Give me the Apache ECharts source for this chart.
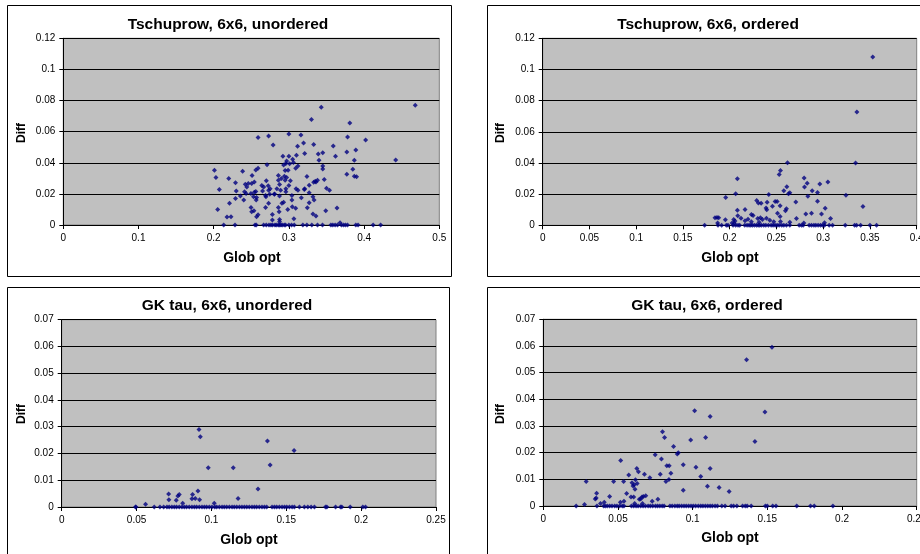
<!DOCTYPE html>
<html>
<head>
<meta charset="utf-8">
<script src="https://cdn.jsdelivr.net/npm/echarts@6/dist/echarts.min.js"></script>
<style>
  html, body { margin: 0; padding: 0; background: #fff; }
  #chart { width: 920px; height: 554px; }
</style>
</head>
<body>
<div id="chart"></div>
<script>
// panel titles
const titles = ['Tschuprow, 6x6, unordered', 'Tschuprow, 6x6, ordered', 'GK tau, 6x6, unordered', 'GK tau, 6x6, ordered']

// Tschuprow, unordered: points off the baseline [glob opt, diff]
const tschUnordered = [
  [0.468,0.077],[0.343,0.0757],[0.330,0.0678],[0.381,0.0655],[0.259,0.0563],[0.273,0.0572],[0.300,0.0585],[0.316,0.0578],
  [0.279,0.0514],[0.3115,0.0506],[0.3195,0.0527],[0.333,0.0518],[0.359,0.0508],[0.378,0.0565],[0.402,0.0546],[0.389,0.0482],
  [0.377,0.0469],[0.345,0.0465],[0.339,0.0457],[0.340,0.0416],[0.321,0.0459],[0.310,0.0448],[0.362,0.0442],[0.442,0.0418],
  [0.387,0.0416],[0.292,0.0442],[0.300,0.0442],[0.305,0.0422],[0.297,0.0412],[0.306,0.0401],[0.296,0.0395],[0.293,0.0386],
  [0.301,0.0393],[0.312,0.038],[0.271,0.0388],[0.345,0.038],[0.345,0.036],[0.201,0.0352],[0.203,0.0305],[0.2385,0.0346],
  [0.256,0.0354],[0.259,0.0365],[0.295,0.035],[0.299,0.0352],[0.309,0.0365],[0.294,0.0314],[0.297,0.0305],[0.290,0.0299],
  [0.286,0.0318],[0.385,0.0358],[0.377,0.0326],[0.387,0.0314],[0.390,0.031],[0.324,0.0311],[0.338,0.0288],[0.335,0.0282],
  [0.220,0.0299],[0.251,0.0318],[0.229,0.0271],[0.242,0.0262],[0.246,0.0267],[0.244,0.0245],[0.2505,0.0267],[0.254,0.0277],
  [0.270,0.0284],[0.264,0.0254],[0.2725,0.0252],[0.286,0.0288],[0.2876,0.026],[0.295,0.0288],[0.302,0.0284],[0.284,0.0233],
  [0.289,0.0224],[0.296,0.0233],[0.296,0.0213],[0.327,0.0256],[0.347,0.0292],[0.350,0.0237],[0.354,0.0224],[0.2075,0.0228],
  [0.230,0.0218],[0.241,0.0213],[0.2495,0.0203],[0.254,0.0211],[0.265,0.0218],[0.275,0.0233],[0.300,0.0254],[0.3095,0.0233],
  [0.336,0.0277],[0.321,0.0233],[0.333,0.0275],[0.312,0.0224],[0.3205,0.0228],[0.2355,0.0186],[0.243,0.0203],[0.256,0.0215],
  [0.2665,0.0245],[0.273,0.0224],[0.2745,0.0198],[0.269,0.019],[0.281,0.02],[0.2875,0.0186],[0.304,0.019],[0.327,0.0207],
  [0.332,0.0181],[0.221,0.0139],[0.229,0.0171],[0.253,0.0181],[0.257,0.0177],[0.2565,0.016],[0.2695,0.0181],[0.2805,0.0198],
  [0.304,0.016],[0.3165,0.0175],[0.327,0.0143],[0.3335,0.016],[0.2053,0.01],[0.2177,0.0051],[0.223,0.0053],[0.240,0.016],
  [0.2496,0.0113],[0.2505,0.0085],[0.2535,0.0092],[0.257,0.0053],[0.259,0.0066],[0.269,0.0113],[0.273,0.0139],[0.278,0.0068],
  [0.278,0.0032],[0.286,0.0113],[0.287,0.0085],[0.2907,0.0139],[0.293,0.0147],[0.2985,0.01],[0.3045,0.0117],[0.309,0.0107],
  [0.3245,0.0111],[0.332,0.007],[0.336,0.0058],[0.349,0.0092],[0.364,0.0109],[0.3066,0.004],[0.2876,0.0036],[0.2876,0.0021],
  [0.368,0.0015]
]
// glob opt values whose diff is 0
const tschUnorderedZeroX = [0.2133,0.2283,0.2549,0.2566,0.2664,0.2699,0.2735,0.2761,0.2783,0.2814,0.2832,0.2858,0.2876,0.2894,
  0.2912,0.2938,0.2956,0.300,0.3035,0.3071,0.3186,0.3239,0.3305,0.338,0.3447,0.3558,0.3584,0.3615,0.3646,0.3699,0.3726,0.3752,
  0.3779,0.389,0.392,0.412,0.422]

const tschOrdered = [
  [0.353,0.108],[0.336,0.0727],[0.2618,0.0402],[0.3346,0.040],[0.2543,0.0352],[0.2529,0.0326],[0.2082,0.0298],[0.2796,0.0304],
  [0.2829,0.027],[0.28,0.0246],[0.305,0.0278],[0.2964,0.0265],[0.2611,0.0248],[0.2579,0.0222],[0.2643,0.0209],[0.2629,0.0202],
  [0.2882,0.0222],[0.2939,0.0211],[0.2836,0.0187],[0.3243,0.0193],[0.2064,0.0202],[0.2418,0.0198],[0.1957,0.0178],[0.2289,0.0159],
  [0.2307,0.0143],[0.2336,0.0141],[0.24,0.0148],[0.2457,0.0122],[0.2486,0.0152],[0.2507,0.0152],[0.2539,0.0126],[0.2707,0.015],
  [0.2939,0.0154],[0.2389,0.0111],[0.2396,0.01],[0.2607,0.0107],[0.2596,0.0093],[0.3021,0.0109],[0.3425,0.012],[0.2082,0.0096],
  [0.2164,0.0102],[0.2232,0.007],[0.225,0.0063],[0.2511,0.0078],[0.2539,0.0057],[0.2814,0.0072],[0.2875,0.0078],[0.2982,0.0072],
  [0.3079,0.0043],[0.2714,0.0043],[0.1843,0.0048],[0.1864,0.005],[0.1882,0.0048],[0.1954,0.0035],[0.2086,0.0061],[0.2121,0.0046],
  [0.2164,0.003],[0.2196,0.0039],[0.23,0.0043],[0.2329,0.0048],[0.235,0.0037],[0.2393,0.0046],[0.2429,0.0033],[0.2057,0.0028],
  [0.2043,0.0037],[0.1871,0.0015],[0.2025,0.0015],[0.205,0.0013],[0.2232,0.0022],[0.2314,0.002],[0.2471,0.0022],[0.2543,0.0024],
  [0.2643,0.002],[0.2793,0.0015],[0.3014,0.0017]
]
const tschOrderedZeroX = [0.1732,0.1875,0.1914,0.1964,0.1982,0.2036,0.2064,0.2089,0.2107,0.2161,0.2186,0.2207,0.2225,0.2243,
  0.2264,0.2286,0.2304,0.2321,0.2339,0.2364,0.2386,0.2414,0.2443,0.2464,0.2486,0.2507,0.2529,0.2557,0.2579,0.2607,0.2643,0.2743,
  0.2768,0.2786,0.285,0.2875,0.29,0.2921,0.2946,0.2971,0.2993,0.3014,0.3064,0.31,0.3236,0.3336,0.3357,0.34,0.35,0.3571]

const gkUnordered = [
  [0.0917,0.029],[0.0926,0.0263],[0.1374,0.0247],[0.1552,0.0211],[0.0979,0.0147],[0.1146,0.0147],[0.1392,0.0157],[0.1311,0.0067],
  [0.0714,0.0049],[0.0716,0.0027],[0.0776,0.0041],[0.0785,0.0047],[0.0765,0.0025],[0.0874,0.0047],[0.091,0.006],[0.087,0.0031],
  [0.0892,0.0032],[0.0921,0.0027],[0.0808,0.0014],[0.1019,0.0014],[0.1178,0.0032],[0.056,0.001]
]
const gkUnorderedZeroX = [0.0493,0.0496,0.0618,0.0656,0.0681,0.0703,0.0718,0.0736,0.0752,0.0767,0.0785,0.0803,0.0819,0.0834,
  0.0852,0.087,0.0886,0.0901,0.0919,0.0937,0.0953,0.0968,0.0986,0.1004,0.1022,0.1035,0.1053,0.1071,0.1086,0.1102,0.112,0.1138,
  0.1153,0.1169,0.1187,0.1204,0.122,0.1236,0.1253,0.1271,0.1287,0.1302,0.132,0.1338,0.1354,0.1369,0.1405,0.1421,0.1436,0.1454,
  0.1472,0.1488,0.1503,0.1521,0.1539,0.1554,0.1588,0.1621,0.1644,0.1666,0.1688,0.1762,0.1771,0.1829,0.1862,0.1871,0.1927,
  0.2011,0.2029]

const gkOrdered = [
  [0.1531,0.0595],[0.1361,0.0548],[0.1013,0.0357],[0.1484,0.0352],[0.1117,0.0336],[0.0798,0.0278],[0.0812,0.0257],[0.0987,0.0247],
  [0.1087,0.0257],[0.1417,0.0242],[0.0872,0.0223],[0.0904,0.02],[0.0897,0.0195],[0.0749,0.0192],[0.0791,0.0176],[0.0518,0.0171],
  [0.0937,0.0155],[0.0827,0.0151],[0.0843,0.0151],[0.1022,0.0145],[0.1117,0.0141],[0.0626,0.0141],[0.0637,0.0128],[0.0677,0.0119],
  [0.0783,0.0119],[0.0854,0.0123],[0.0572,0.0116],[0.0713,0.0106],[0.1054,0.0111],[0.0841,0.0099],[0.0821,0.0092],[0.0617,0.0098],
  [0.0287,0.0092],[0.0471,0.0092],[0.0538,0.0092],[0.0594,0.0087],[0.0628,0.0084],[0.0601,0.0075],[0.0608,0.008],[0.1099,0.0074],
  [0.1177,0.0069],[0.1244,0.0054],[0.0937,0.0059],[0.0614,0.0063],[0.0357,0.0048],[0.0558,0.0047],[0.0348,0.0026],[0.0354,0.003],
  [0.0444,0.0036],[0.0587,0.0034],[0.0605,0.0034],[0.0661,0.0034],[0.0686,0.0038],[0.067,0.0036],[0.0643,0.0025],[0.0652,0.0026],
  [0.0767,0.0025],[0.0729,0.0018],[0.0516,0.0014],[0.054,0.0018],[0.0408,0.0014],[0.0383,0.0009],[0.0276,0.0006],[0.0612,0.0009],
  [0.0664,0.0009]
]
const gkOrderedZeroX = [0.022,0.0359,0.0404,0.0415,0.0428,0.0444,0.046,0.0478,0.0493,0.0511,0.0529,0.054,0.059,0.0605,0.0621,
  0.0635,0.0652,0.0668,0.0684,0.0702,0.0717,0.0733,0.0751,0.0765,0.078,0.0796,0.0809,0.0848,0.0863,0.0881,0.0897,0.091,0.0926,
  0.0942,0.0957,0.0973,0.0989,0.1004,0.102,0.1038,0.1054,0.1069,0.1085,0.1101,0.1117,0.1132,0.115,0.1166,0.1195,0.1217,0.1258,
  0.1274,0.1296,0.1334,0.1352,0.1365,0.1392,0.1487,0.15,0.1536,0.1558,0.1697,0.1789,0.1814,0.1939]

// axis ranges
const xMax = [0.5, 0.4, 0.25, 0.25]
const xStep = [0.1, 0.05, 0.05, 0.05]
const yMax = [0.12, 0.12, 0.07, 0.07]
const yStep = [0.02, 0.02, 0.01, 0.01]

const seriesData = [
  tschUnordered.concat(tschUnorderedZeroX.map(x => [x, 0])),
  tschOrdered.concat(tschOrderedZeroX.map(x => [x, 0])),
  gkUnordered.concat(gkUnorderedZeroX.map(x => [x, 0])),
  gkOrdered.concat(gkOrderedZeroX.map(x => [x, 0]))
]

// layout of the four panels (pixels)
const grids = [
  { left: 63.3, top: 38.3, width: 376, height: 186.7 },
  { left: 542.7, top: 38.3, width: 374, height: 187 },
  { left: 61.7, top: 319.7, width: 374.3, height: 187.3 },
  { left: 543.3, top: 319.3, width: 373.4, height: 186.7 }
]
const frames = [
  { x: 7, y: 5, w: 444, h: 271 },
  { x: 487, y: 5, w: 460, h: 271 },
  { x: 7, y: 287, w: 442, h: 300 },
  { x: 487, y: 287, w: 460, h: 300 }
]
const titlePos = [[228, 25], [708, 25], [227, 306], [707, 306]]
const diffPos = [[21.5, 133], [500.5, 133], [21.5, 414], [500.5, 414]]
const globPos = [[252, 258], [730, 258], [249, 540], [730, 538.5]]

const font = '"Liberation Sans", Arial, sans-serif'

let graphic = []
for (let i = 0; i < 4; i++) {
  graphic.push({
    type: 'rect', silent: true, z: -10,
    shape: { x: frames[i].x + 0.5, y: frames[i].y + 0.5, width: frames[i].w, height: frames[i].h },
    style: { fill: 'none', stroke: '#000', lineWidth: 1 }
  })
  graphic.push({
    type: 'text', x: titlePos[i][0], y: titlePos[i][1],
    style: { text: titles[i], font: 'bold 15.5px ' + font, fill: '#000', align: 'center', verticalAlign: 'middle' }
  })
  graphic.push({
    type: 'text', x: diffPos[i][0], y: diffPos[i][1], rotation: Math.PI / 2,
    style: { text: 'Diff', font: 'bold 12px ' + font, fill: '#000', align: 'center', verticalAlign: 'middle' }
  })
  graphic.push({
    type: 'text', x: globPos[i][0], y: globPos[i][1],
    style: { text: 'Glob opt', font: 'bold 14px ' + font, fill: '#000', align: 'center', verticalAlign: 'middle' }
  })
}

let option = {
  backgroundColor: '#fff',
  animation: false,
  graphic: graphic,
  grid: grids.map(g => Object.assign({
    show: true, backgroundColor: '#c0c0c0', borderColor: '#808080', borderWidth: 1,
    containLabel: false, outerBoundsMode: 'none'
  }, g)),
  xAxis: grids.map((g, i) => ({
    type: 'value', gridIndex: i, min: 0, max: xMax[i], interval: xStep[i],
    axisLine: { show: true, onZero: false, lineStyle: { color: '#000', width: 1 } },
    axisTick: { show: true, length: 4, lineStyle: { color: '#000' } },
    axisLabel: { color: '#000', fontSize: 10, fontFamily: font, margin: 8, hideOverlap: false },
    splitLine: { show: false }
  })),
  yAxis: grids.map((g, i) => ({
    type: 'value', gridIndex: i, min: 0, max: yMax[i], interval: yStep[i],
    axisLine: { show: true, lineStyle: { color: '#000', width: 1 } },
    axisTick: { show: true, length: 4, lineStyle: { color: '#000' } },
    axisLabel: { color: '#000', fontSize: 10, fontFamily: font, margin: 8 },
    splitLine: { show: true, lineStyle: { color: '#000', width: 1 } }
  })),
  series: seriesData.map((d, i) => ({
    type: 'scatter', xAxisIndex: i, yAxisIndex: i, data: d,
    symbol: 'diamond', symbolSize: 5, clip: false,
    itemStyle: { color: '#000080' }
  }))
}

let myChart = echarts.init(document.getElementById('chart'))
myChart.setOption(option)
</script>
</body>
</html>
